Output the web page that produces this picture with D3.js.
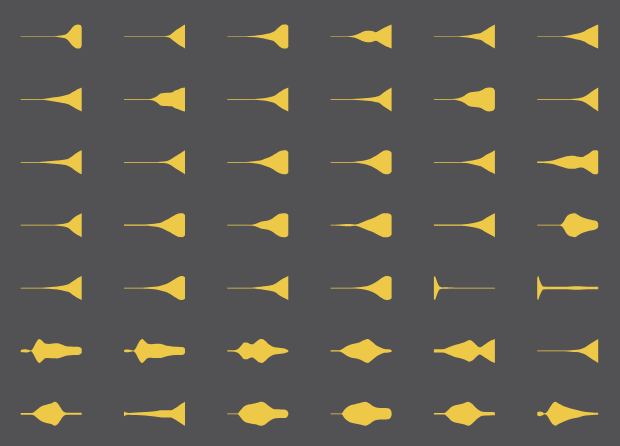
<!DOCTYPE html>
<html><head><meta charset="utf-8">
<script src="https://cdn.jsdelivr.net/npm/d3@7"></script>
<style>html,body{margin:0;padding:0;background:#525254;overflow:hidden;}</style>
</head><body>
<svg id="chart" width="620" height="446"></svg>
<script>
// Each violin: [position (0..1 along value axis), density (0..1 relative)]
const densityRow1 = [
  [[0,0.03],[0.55,0.03],[0.62,0.06],[0.7,0.12],[0.75,0.2],[0.8,0.45],[0.85,0.78],[0.9,0.95],[0.94,1.0],[0.98,0.95],[1,0.75]],
  [[0,0.03],[0.65,0.03],[0.72,0.07],[0.76,0.15],[0.82,0.4],[0.88,0.62],[0.94,0.82],[1,1.0]],
  [[0,0.03],[0.3,0.03],[0.45,0.07],[0.55,0.12],[0.65,0.22],[0.72,0.32],[0.78,0.45],[0.83,0.7],[0.88,0.92],[0.92,1.0],[0.97,1.0],[1,0.85]],
  [[0,0.03],[0.28,0.03],[0.38,0.08],[0.45,0.2],[0.52,0.38],[0.6,0.48],[0.68,0.45],[0.74,0.36],[0.8,0.5],[0.87,0.7],[0.94,0.88],[1,1.0]],
  [[0,0.03],[0.4,0.03],[0.5,0.07],[0.6,0.13],[0.7,0.22],[0.77,0.3],[0.82,0.45],[0.88,0.65],[0.94,0.83],[1,1.0]],
  [[0,0.03],[0.4,0.03],[0.5,0.08],[0.6,0.18],[0.7,0.3],[0.77,0.42],[0.83,0.6],[0.9,0.77],[0.95,0.9],[1,1.0]]
];
const densityRow2 = [
  [[0,0.03],[0.35,0.03],[0.45,0.09],[0.55,0.17],[0.65,0.25],[0.72,0.32],[0.78,0.4],[0.84,0.58],[0.9,0.75],[0.95,0.88],[1,1.0]],
  [[0,0.03],[0.4,0.03],[0.46,0.08],[0.52,0.2],[0.57,0.38],[0.6,0.5],[0.7,0.55],[0.78,0.58],[0.83,0.72],[0.9,0.85],[0.96,0.96],[1,1.0]],
  [[0,0.03],[0.45,0.03],[0.55,0.07],[0.65,0.14],[0.72,0.22],[0.78,0.32],[0.84,0.55],[0.9,0.75],[0.95,0.88],[1,1.0]],
  [[0,0.03],[0.35,0.03],[0.5,0.07],[0.6,0.11],[0.7,0.17],[0.76,0.24],[0.8,0.3],[0.85,0.5],[0.9,0.68],[0.95,0.85],[1,1.0]],
  [[0,0.03],[0.3,0.03],[0.38,0.07],[0.44,0.15],[0.5,0.3],[0.55,0.48],[0.6,0.6],[0.67,0.64],[0.74,0.68],[0.8,0.8],[0.85,0.95],[0.9,1.0],[0.95,0.97],[0.98,0.9],[1,0.72]],
  [[0,0.03],[0.5,0.03],[0.6,0.06],[0.68,0.1],[0.75,0.17],[0.8,0.3],[0.86,0.52],[0.92,0.73],[0.96,0.87],[1,1.0]]
];
const densityRow3 = [
  [[0,0.03],[0.3,0.03],[0.4,0.06],[0.5,0.1],[0.6,0.15],[0.7,0.21],[0.77,0.28],[0.82,0.42],[0.88,0.65],[0.94,0.85],[1,1.0]],
  [[0,0.03],[0.55,0.03],[0.65,0.07],[0.72,0.13],[0.77,0.25],[0.83,0.45],[0.89,0.65],[0.95,0.84],[1,1.0]],
  [[0,0.03],[0.3,0.03],[0.4,0.06],[0.5,0.12],[0.58,0.22],[0.65,0.35],[0.72,0.5],[0.78,0.68],[0.84,0.88],[0.9,0.98],[0.96,1.0],[1,0.85]],
  [[0,0.03],[0.3,0.03],[0.4,0.05],[0.5,0.1],[0.6,0.2],[0.66,0.32],[0.72,0.48],[0.78,0.66],[0.84,0.88],[0.9,1.0],[0.96,0.97],[1,0.8]],
  [[0,0.03],[0.45,0.03],[0.52,0.07],[0.6,0.12],[0.7,0.24],[0.77,0.34],[0.83,0.52],[0.89,0.7],[0.95,0.86],[1,1.0]],
  [[0,0.07],[0.05,0.06],[0.15,0.08],[0.25,0.15],[0.32,0.25],[0.4,0.38],[0.48,0.5],[0.56,0.55],[0.62,0.53],[0.68,0.45],[0.73,0.43],[0.8,0.58],[0.87,0.82],[0.93,1.0],[0.98,1.0],[1,0.9]]
];
const densityRow4 = [
  [[0,0.03],[0.5,0.03],[0.6,0.06],[0.68,0.1],[0.74,0.16],[0.79,0.25],[0.84,0.48],[0.9,0.72],[0.95,0.87],[1,1.0]],
  [[0,0.06],[0.35,0.06],[0.45,0.09],[0.55,0.16],[0.62,0.25],[0.68,0.4],[0.74,0.56],[0.8,0.74],[0.86,0.9],[0.91,0.99],[0.96,1.0],[1,0.85]],
  [[0,0.03],[0.38,0.03],[0.44,0.08],[0.5,0.18],[0.56,0.3],[0.62,0.35],[0.68,0.4],[0.74,0.56],[0.8,0.78],[0.86,0.94],[0.92,1.0],[0.97,0.98],[1,0.85]],
  [[0,0.03],[0.15,0.05],[0.25,0.09],[0.32,0.1],[0.4,0.06],[0.46,0.12],[0.54,0.28],[0.62,0.45],[0.7,0.6],[0.76,0.75],[0.82,0.9],[0.87,1.0],[0.93,1.0],[0.97,0.95],[1,0.78]],
  [[0,0.06],[0.4,0.06],[0.5,0.08],[0.6,0.14],[0.7,0.24],[0.77,0.34],[0.83,0.52],[0.89,0.7],[0.95,0.86],[1,1.0]],
  [[0,0.03],[0.36,0.03],[0.4,0.1],[0.44,0.35],[0.48,0.7],[0.53,0.9],[0.58,0.97],[0.62,1.0],[0.66,0.88],[0.72,0.7],[0.8,0.56],[0.88,0.45],[0.94,0.38],[0.98,0.3],[1,0.15]]
];
const densityRow5 = [
  [[0,0.03],[0.35,0.03],[0.45,0.06],[0.55,0.1],[0.65,0.17],[0.72,0.24],[0.79,0.34],[0.85,0.55],[0.9,0.72],[0.95,0.87],[1,1.0]],
  [[0,0.03],[0.3,0.03],[0.4,0.06],[0.5,0.1],[0.6,0.2],[0.68,0.32],[0.74,0.46],[0.8,0.64],[0.86,0.84],[0.91,0.97],[0.96,1.0],[1,0.9]],
  [[0,0.03],[0.4,0.03],[0.5,0.08],[0.6,0.14],[0.7,0.22],[0.77,0.32],[0.84,0.55],[0.9,0.75],[0.95,0.88],[1,1.0]],
  [[0,0.03],[0.35,0.03],[0.45,0.06],[0.55,0.12],[0.62,0.2],[0.68,0.32],[0.74,0.48],[0.8,0.7],[0.86,0.9],[0.91,1.0],[0.96,0.98],[1,0.85]],
  [[0,0.85],[0.015,1.0],[0.04,0.7],[0.07,0.3],[0.1,0.1],[0.14,0.05],[0.2,0.06],[0.25,0.04],[0.35,0.03],[1,0.03]],
  [[0,0.8],[0.015,1.0],[0.04,0.65],[0.07,0.3],[0.1,0.13],[0.2,0.1],[0.4,0.1],[0.55,0.12],[0.65,0.14],[0.75,0.12],[0.9,0.1],[1,0.1]]
];
const densityRow6 = [
  [[0,0.06],[0.03,0.12],[0.08,0.13],[0.13,0.08],[0.17,0.03],[0.2,0.2],[0.24,0.6],[0.28,0.92],[0.31,1.0],[0.35,0.85],[0.4,0.62],[0.46,0.58],[0.53,0.62],[0.6,0.63],[0.66,0.55],[0.73,0.42],[0.82,0.36],[0.9,0.34],[0.96,0.32],[1,0.18]],
  [[0,0.05],[0.03,0.11],[0.07,0.12],[0.11,0.07],[0.15,0.03],[0.19,0.2],[0.23,0.6],[0.27,0.92],[0.3,1.0],[0.34,0.82],[0.39,0.6],[0.45,0.56],[0.52,0.6],[0.59,0.6],[0.66,0.5],[0.74,0.4],[0.84,0.35],[0.92,0.33],[0.97,0.31],[1,0.18]],
  [[0,0.05],[0.12,0.06],[0.18,0.18],[0.23,0.45],[0.28,0.7],[0.32,0.7],[0.37,0.58],[0.41,0.55],[0.47,0.75],[0.53,0.97],[0.57,1.0],[0.62,0.85],[0.68,0.55],[0.74,0.36],[0.81,0.28],[0.88,0.24],[0.95,0.18],[1,0.06]],
  [[0,0.05],[0.14,0.05],[0.2,0.18],[0.26,0.38],[0.32,0.52],[0.4,0.62],[0.48,0.72],[0.55,0.9],[0.61,1.0],[0.67,0.8],[0.74,0.5],[0.81,0.3],[0.88,0.16],[0.95,0.13],[1,0.06]],
  [[0,0.13],[0.12,0.13],[0.17,0.16],[0.24,0.3],[0.33,0.48],[0.42,0.6],[0.5,0.72],[0.55,0.85],[0.58,0.9],[0.63,0.8],[0.69,0.52],[0.75,0.3],[0.8,0.42],[0.87,0.66],[0.94,0.88],[1,1.0]],
  [[0,0.03],[0.45,0.03],[0.55,0.06],[0.65,0.1],[0.72,0.17],[0.78,0.28],[0.83,0.45],[0.89,0.65],[0.95,0.84],[1,1.0]]
];
const densityRow7 = [
  [[0,0.07],[0.18,0.07],[0.22,0.15],[0.28,0.4],[0.35,0.65],[0.42,0.76],[0.5,0.85],[0.56,1.0],[0.6,0.9],[0.65,0.55],[0.7,0.2],[0.76,0.08],[1,0.08]],
  [[0,0.2],[0.04,0.1],[0.08,0.07],[0.2,0.1],[0.35,0.15],[0.5,0.22],[0.62,0.3],[0.7,0.3],[0.77,0.3],[0.83,0.45],[0.9,0.68],[0.95,0.85],[1,1.0]],
  [[0,0.03],[0.17,0.03],[0.21,0.25],[0.26,0.55],[0.31,0.72],[0.38,0.8],[0.46,0.88],[0.52,0.97],[0.57,1.0],[0.62,0.9],[0.68,0.65],[0.74,0.45],[0.8,0.37],[0.88,0.36],[0.95,0.34],[0.98,0.26],[1,0.1]],
  [[0,0.03],[0.18,0.03],[0.22,0.3],[0.27,0.55],[0.32,0.7],[0.4,0.8],[0.48,0.9],[0.57,1.0],[0.63,0.88],[0.7,0.62],[0.77,0.5],[0.86,0.48],[0.94,0.46],[0.98,0.35],[1,0.12]],
  [[0,0.06],[0.17,0.06],[0.22,0.25],[0.28,0.55],[0.35,0.72],[0.43,0.8],[0.5,0.9],[0.56,1.0],[0.62,0.85],[0.68,0.55],[0.74,0.3],[0.8,0.17],[0.9,0.15],[1,0.13]],
  [[0,0.12],[0.04,0.2],[0.08,0.15],[0.12,0.04],[0.16,0.15],[0.21,0.55],[0.26,0.9],[0.3,1.0],[0.35,0.85],[0.42,0.68],[0.5,0.52],[0.6,0.38],[0.7,0.26],[0.8,0.15],[0.9,0.1],[1,0.08]]
];
const rows = [densityRow1, densityRow2, densityRow3, densityRow4, densityRow5, densityRow6, densityRow7];

const W = 620, H = 446;
const svg = d3.select("#chart");
svg.append("rect").attr("width", W).attr("height", H).attr("fill", "#525254");

const colPos = d3.scalePoint().domain(d3.range(6)).range([20.7, 537.2]);
const rowPos = d3.scalePoint().domain(d3.range(7)).range([36.5, 413.8]);
const x = d3.scaleLinear().domain([0, 1]).range([0, 61]);
const w = d3.scaleLinear().domain([0, 1]).range([0, 12]);

const area = d3.area()
  .x(d => x(d[0]))
  .y0(d => -w(d[1]))
  .y1(d => w(d[1]))
  .curve(d3.curveMonotoneX);

rows.forEach((row, ri) => {
  row.forEach((prof, ci) => {
    svg.append("g")
      .attr("transform", `translate(${colPos(ci)},${rowPos(ri)})`)
      .append("path")
      .attr("d", area(prof))
      .attr("fill", "#eec948");
  });
});
</script>
</body></html>
